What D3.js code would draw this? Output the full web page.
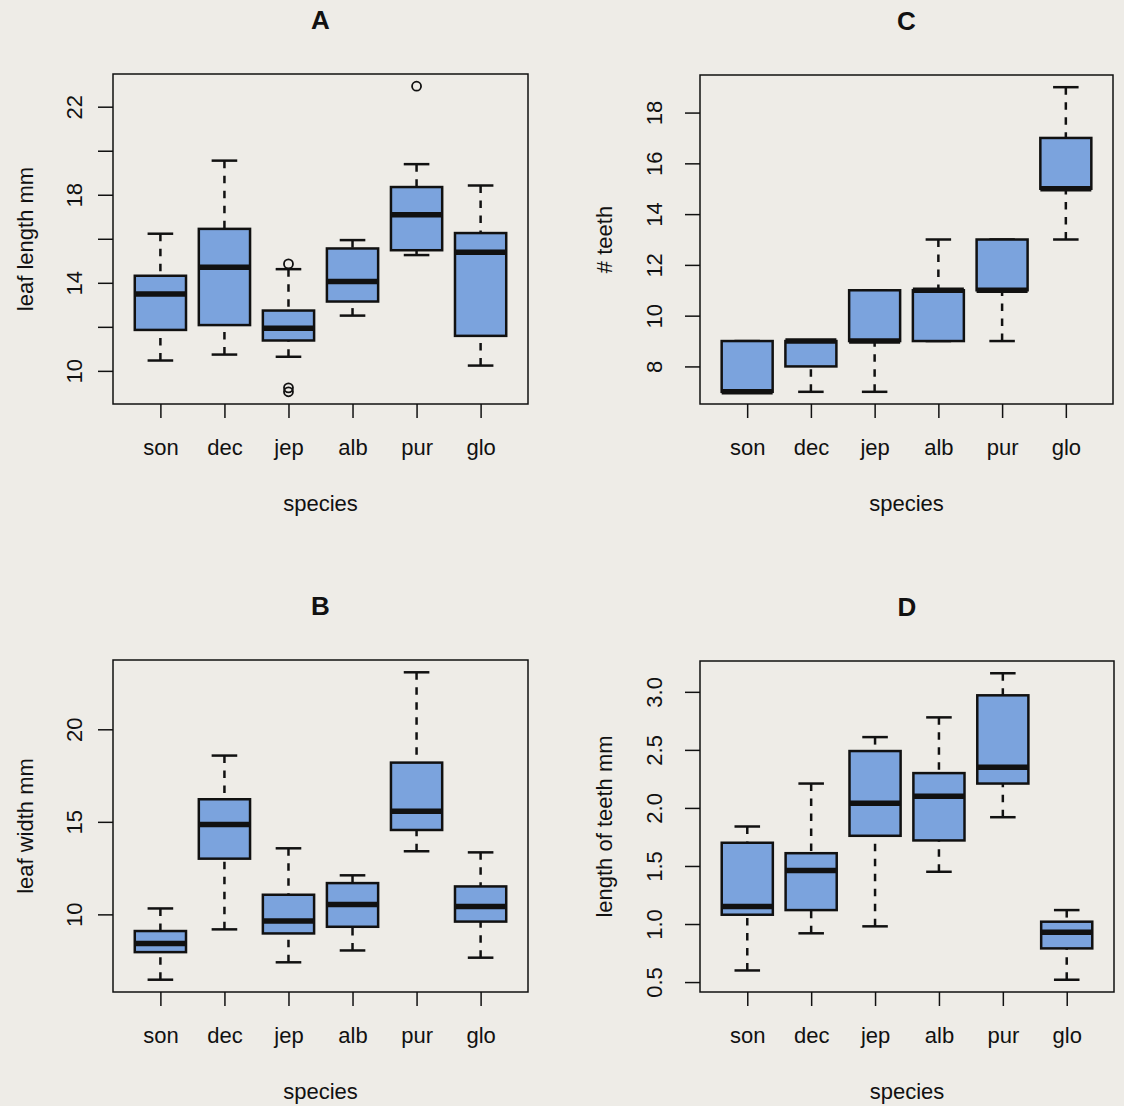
<!DOCTYPE html>
<html>
<head>
<meta charset="utf-8">
<script src="https://cdn.jsdelivr.net/npm/d3@7"></script>
<style>
  body { margin: 0; background: #eeece7; }
  svg { display: block; font-family: 'Liberation Sans', Arial, Helvetica, sans-serif; }
</style>
</head>
<body>
<svg id="chart" width="1124" height="1106"></svg>
<script>
  var species = ['son', 'dec', 'jep', 'alb', 'pur', 'glo'];

  // per species: [lower whisker, lower hinge, median, upper hinge, upper whisker]
  var leafLength = [
    [10.47, 11.86, 13.49, 14.32, 16.23],
    [10.74, 12.08, 14.71, 16.45, 19.55],
    [10.64, 11.38, 11.94, 12.74, 14.62],
    [12.51, 13.15, 14.06, 15.56, 15.94],
    [15.26, 15.48, 17.09, 18.35, 19.39],
    [10.24, 11.59, 15.39, 16.26, 18.42]
  ];
  var leafLengthOut = [[], [], [14.86, 9.23, 9.05], [], [22.93], []];

  var leafWidth = [
    [6.47, 7.96, 8.43, 9.10, 10.32],
    [9.19, 13.01, 14.86, 16.22, 18.58],
    [7.41, 8.97, 9.64, 11.06, 13.57],
    [8.05, 9.33, 10.54, 11.69, 12.11],
    [13.41, 14.56, 15.57, 18.20, 23.08],
    [7.66, 9.61, 10.43, 11.51, 13.35]
  ];
  var leafWidthOut = [[], [], [], [], [], []];

  var teethCount = [
    [7, 7, 7, 9, 9],
    [7, 8, 9, 9, 9],
    [7, 9, 9, 11, 11],
    [9, 9, 11, 11, 13],
    [9, 11, 11, 13, 13],
    [13, 15, 15, 17, 19]
  ];
  var teethCountOut = [[], [], [], [], [], []];

  var teethLength = [
    [0.60, 1.08, 1.15, 1.70, 1.84],
    [0.92, 1.12, 1.46, 1.61, 2.21],
    [0.98, 1.76, 2.04, 2.49, 2.61],
    [1.45, 1.72, 2.10, 2.30, 2.78],
    [1.92, 2.21, 2.35, 2.97, 3.16],
    [0.52, 0.79, 0.93, 1.02, 1.12]
  ];
  var teethLengthOut = [[], [], [], [], [], []];

  // axis ticks and which of them carry a label
  var leafLengthTicks = [10, 12, 14, 16, 18, 20, 22];
  var leafLengthLabels = [10, 14, 18, 22];
  var leafWidthTicks = [10, 15, 20];
  var teethCountTicks = [8, 10, 12, 14, 16, 18];
  var teethLengthTicks = [0.5, 1.0, 1.5, 2.0, 2.5, 3.0];

  var panels = [
    { title: 'A', ylab: 'leaf length mm', stats: leafLength, out: leafLengthOut,
      ticks: leafLengthTicks, labels: leafLengthLabels, fmt: d3.format('d'),
      l: 113, r: 528, t: 74, b: 404, numX: 82, labX: 33 },
    { title: 'C', ylab: '# teeth', stats: teethCount, out: teethCountOut,
      ticks: teethCountTicks, labels: teethCountTicks, fmt: d3.format('d'),
      l: 700, r: 1113, t: 75, b: 404, numX: 662, labX: 612 },
    { title: 'B', ylab: 'leaf width mm', stats: leafWidth, out: leafWidthOut,
      ticks: leafWidthTicks, labels: leafWidthTicks, fmt: d3.format('d'),
      l: 113, r: 528, t: 660, b: 992, numX: 82, labX: 33 },
    { title: 'D', ylab: 'length of teeth mm', stats: teethLength, out: teethLengthOut,
      ticks: teethLengthTicks, labels: teethLengthTicks, fmt: d3.format('.1f'),
      l: 700, r: 1114, t: 661, b: 992, numX: 662, labX: 612 }
  ];

  var boxFill = '#7ba3dd';
  var ink = '#111';
  var svg = d3.select('#chart');

  panels.forEach(drawPanel);

  function drawPanel(p) {
    var g = svg.append('g');

    // R-style 4% expansion of the data range
    var all = d3.merge(p.stats).concat(d3.merge(p.out));
    var ext = d3.extent(all);
    var pad = (ext[1] - ext[0]) * 0.04;
    var y = d3.scaleLinear().domain([ext[0] - pad, ext[1] + pad]).range([p.b, p.t]);
    var x = d3.scaleLinear().domain([0.5 - 0.24, species.length + 0.5 + 0.24]).range([p.l, p.r]);
    var bw = (x(1) - x(0)) * 0.8;

    // y axis
    var yAxis = d3.axisLeft(y)
      .tickValues(p.ticks)
      .tickSize(15)
      .tickFormat(function(d) { return p.labels.indexOf(d) >= 0 ? p.fmt(d) : ''; });
    var ya = g.append('g')
      .attr('transform', 'translate(' + p.l + ',0)')
      .call(yAxis);
    ya.select('.domain').remove();
    ya.selectAll('line').attr('stroke', ink).attr('stroke-width', 1.5);
    ya.selectAll('text')
      .attr('x', null).attr('dy', null)
      .attr('text-anchor', 'middle')
      .attr('transform', 'translate(' + (p.numX - p.l) + ',0) rotate(-90)')
      .attr('fill', ink)
      .style('font-size', '22px');

    // x axis
    var xAxis = d3.axisBottom(x)
      .tickValues(d3.range(1, species.length + 1))
      .tickSize(14)
      .tickPadding(18)
      .tickFormat(function(d) { return species[d - 1]; });
    var xa = g.append('g')
      .attr('transform', 'translate(0,' + p.b + ')')
      .call(xAxis);
    xa.select('.domain').remove();
    xa.selectAll('line').attr('stroke', ink).attr('stroke-width', 1.5);
    xa.selectAll('text')
      .attr('y', null).attr('dy', null)
      .attr('transform', 'translate(0,51)')
      .attr('fill', ink)
      .style('font-size', '22px');

    // boxes
    var items = g.selectAll('.bx')
      .data(p.stats)
      .enter().append('g')
      .attr('class', 'bx')
      .attr('transform', function(d, i) { return 'translate(' + x(i + 1) + ',0)'; });

    // whiskers, drawn from the whisker end toward the hinge
    items.append('line')
      .attr('y1', function(d) { return y(d[0]); })
      .attr('y2', function(d) { return y(d[1]); });
    items.append('line')
      .attr('y1', function(d) { return y(d[4]); })
      .attr('y2', function(d) { return y(d[3]); });
    items.selectAll('line')
      .attr('stroke', ink)
      .attr('stroke-width', 2.5)
      .attr('stroke-dasharray', '7.5,7.5');

    // staples
    [0, 4].forEach(function(k) {
      items.append('line')
        .attr('x1', -bw / 4).attr('x2', bw / 4)
        .attr('y1', function(d) { return y(d[k]); })
        .attr('y2', function(d) { return y(d[k]); })
        .attr('stroke', ink)
        .attr('stroke-width', 2.5);
    });

    items.append('rect')
      .attr('x', -bw / 2)
      .attr('width', bw)
      .attr('y', function(d) { return y(d[3]); })
      .attr('height', function(d) { return y(d[1]) - y(d[3]); })
      .attr('fill', boxFill)
      .attr('stroke', ink)
      .attr('stroke-width', 2.5);

    items.append('line')
      .attr('x1', -bw / 2).attr('x2', bw / 2)
      .attr('y1', function(d) { return y(d[2]); })
      .attr('y2', function(d) { return y(d[2]); })
      .attr('stroke', ink)
      .attr('stroke-width', 5.5);

    // outliers
    items.each(function(d, i) {
      d3.select(this).selectAll('circle')
        .data(p.out[i])
        .enter().append('circle')
        .attr('cy', function(v) { return y(v); })
        .attr('r', 4.5)
        .attr('fill', 'none')
        .attr('stroke', ink)
        .attr('stroke-width', 1.8);
    });

    // frame
    g.append('rect')
      .attr('x', p.l).attr('y', p.t)
      .attr('width', p.r - p.l).attr('height', p.b - p.t)
      .attr('fill', 'none')
      .attr('stroke', ink)
      .attr('stroke-width', 1.5);

    // title
    g.append('text')
      .attr('x', (p.l + p.r) / 2)
      .attr('y', p.t - 45)
      .attr('text-anchor', 'middle')
      .style('font-size', '26px')
      .style('font-weight', 'bold')
      .attr('fill', ink)
      .text(p.title);

    // axis titles
    g.append('text')
      .attr('x', (p.l + p.r) / 2)
      .attr('y', p.b + 107)
      .attr('text-anchor', 'middle')
      .style('font-size', '22px')
      .attr('fill', ink)
      .text('species');

    g.append('text')
      .attr('transform', 'translate(' + p.labX + ',' + (p.t + p.b) / 2 + ') rotate(-90)')
      .attr('text-anchor', 'middle')
      .style('font-size', '22px')
      .attr('fill', ink)
      .text(p.ylab);
  }
</script>
</body>
</html>
